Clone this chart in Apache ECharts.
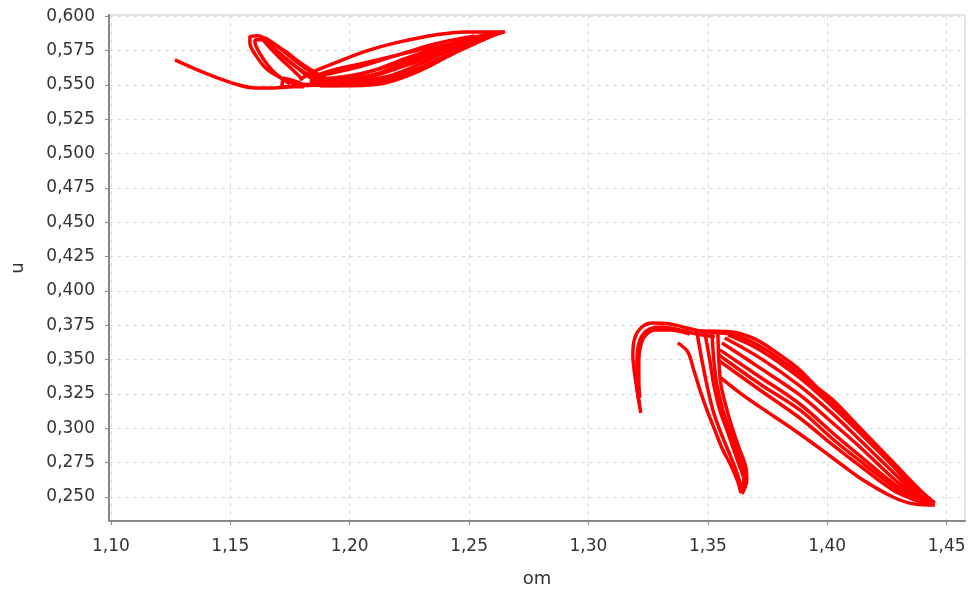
<!DOCTYPE html>
<html>
<head>
<meta charset="utf-8">
<script src="https://cdn.jsdelivr.net/npm/echarts@6/dist/echarts.min.js"></script>
<style>
html,body{margin:0;padding:0;background:#fff;}
#chart{width:969px;height:590px;}
</style>
</head>
<body>
<div id="chart"></div>
<script>
// Tick values
const xTicks = [1.10, 1.15, 1.20, 1.25, 1.30, 1.35, 1.40, 1.45];
const yTicks = [0.250, 0.275, 0.300, 0.325, 0.350, 0.375, 0.400, 0.425, 0.450, 0.475, 0.500, 0.525, 0.550, 0.575, 0.600];

// Upper cluster (om, u)
const upperTail = [[1.1268,0.5683],[1.1352,0.5618],[1.1436,0.5559],[1.1519,0.5508],[1.1603,0.5479],[1.1687,0.5479],[1.1791,0.5494],[1.1917,0.5501],[1.2043,0.5501]];
const upperLobe1 = [[1.1791,0.5508],[1.1959,0.5494],[1.2126,0.5508],[1.2252,0.5574],[1.2378,0.5683],[1.2503,0.5785],[1.2608,0.5865],[1.2650,0.5887],[1.2587,0.5887],[1.2482,0.5887],[1.2357,0.5865],[1.2210,0.5814],[1.2072,0.5749],[1.1938,0.5661],[1.1846,0.5596],[1.1791,0.5538]];
const upperLobe2 = [[1.1812,0.5501],[1.1980,0.5508],[1.2147,0.5538],[1.2294,0.5625],[1.2420,0.5727],[1.2545,0.5829],[1.2642,0.5887],[1.2545,0.5858],[1.2420,0.5800],[1.2294,0.5756],[1.2168,0.5705],[1.2043,0.5654],[1.1917,0.5603],[1.1833,0.5552]];
const upperLobe3 = [[1.1833,0.5508],[1.2001,0.5523],[1.2168,0.5567],[1.2315,0.5669],[1.2441,0.5771],[1.2566,0.5851],[1.2629,0.5880],[1.2524,0.5844],[1.2399,0.5785],[1.2252,0.5705],[1.2106,0.5610],[1.1959,0.5538],[1.1833,0.5508]];
const upperLobe4 = [[1.1875,0.5494],[1.2043,0.5508],[1.2210,0.5552],[1.2336,0.5640],[1.2461,0.5756],[1.2587,0.5858],[1.2503,0.5800],[1.2378,0.5727],[1.2231,0.5640],[1.2085,0.5559],[1.1938,0.5508],[1.1875,0.5494]];
const upperFill1 = [[1.1854,0.5538],[1.2001,0.5567],[1.2168,0.5640],[1.2336,0.5742],[1.2503,0.5829],[1.2629,0.5880]];
const upperFill2 = [[1.1833,0.5523],[1.1980,0.5538],[1.2126,0.5589],[1.2294,0.5698],[1.2461,0.5800],[1.2608,0.5873]];
const upperFill3 = [[1.1875,0.5567],[1.2022,0.5625],[1.2189,0.5712],[1.2357,0.5800],[1.2524,0.5858]];
const upperHook1 = [[1.1791,0.5494],[1.1729,0.5538],[1.1657,0.5610],[1.1611,0.5705],[1.1582,0.5807],[1.1582,0.5851],[1.1616,0.5858],[1.1649,0.5836],[1.1708,0.5771],[1.1771,0.5683],[1.1833,0.5610],[1.1896,0.5545],[1.1959,0.5494]];
const upperHook2 = [[1.1750,0.5508],[1.1691,0.5581],[1.1641,0.5683],[1.1607,0.5785],[1.1603,0.5829],[1.1632,0.5829],[1.1687,0.5756],[1.1750,0.5669],[1.1812,0.5581],[1.1875,0.5508]];
const upperHook3 = [[1.1632,0.5844],[1.1699,0.5742],[1.1771,0.5640],[1.1833,0.5567],[1.1896,0.5508]];
const upperHook4 = [[1.1645,0.5844],[1.1716,0.5756],[1.1783,0.5661],[1.1854,0.5574],[1.1917,0.5508]];
const upperHook5 = [[1.1657,0.5829],[1.1733,0.5742],[1.1800,0.5654],[1.1867,0.5581],[1.1938,0.5516]];
const upperHook6 = [[1.1637,0.5829],[1.1674,0.5756],[1.1716,0.5683],[1.1762,0.5610],[1.1804,0.5538]];
const upperSmall = [[1.1720,0.5552],[1.1791,0.5516],[1.1808,0.5487],[1.1716,0.5487],[1.1720,0.5552]];

// Lower cluster (om, u)
const lowerHook1 = [[1.3219,0.3112],[1.3207,0.3243],[1.3194,0.3389],[1.3186,0.3534],[1.3194,0.3658],[1.3224,0.3738],[1.3270,0.3767],[1.3341,0.3760],[1.3412,0.3731],[1.3467,0.3709],[1.3550,0.3695],[1.3634,0.3687]];
const lowerHook2 = [[1.3215,0.3170],[1.3203,0.3316],[1.3203,0.3462],[1.3207,0.3585],[1.3224,0.3673],[1.3257,0.3724],[1.3307,0.3738],[1.3383,0.3716],[1.3454,0.3687],[1.3529,0.3666]];
const lowerHook3 = [[1.3215,0.3221],[1.3211,0.3352],[1.3211,0.3498],[1.3219,0.3607],[1.3240,0.3680],[1.3282,0.3716],[1.3341,0.3716],[1.3425,0.3687]];
const diagTop = [[1.3467,0.3709],[1.3605,0.3702],[1.3705,0.3644],[1.3772,0.3571],[1.3831,0.3498],[1.3885,0.3425],[1.3956,0.3301],[1.4023,0.3207],[1.4137,0.3003],[1.4275,0.2755],[1.4388,0.2551],[1.4451,0.2456]];
const diagTop2 = [[1.3592,0.3695],[1.3718,0.3600],[1.3885,0.3396],[1.4023,0.3185],[1.4137,0.2988],[1.4275,0.2740],[1.4388,0.2536]];
const diagFill = [[1.3584,0.3680],[1.3718,0.3571],[1.3885,0.3367],[1.4023,0.3156],[1.4137,0.2966],[1.4275,0.2726],[1.4379,0.2529],[1.4438,0.2456]];
const diagBand1Low = [[1.3571,0.3658],[1.3718,0.3513],[1.3885,0.3309],[1.4023,0.3105],[1.4137,0.2915],[1.4275,0.2682],[1.4367,0.2529],[1.4430,0.2456]];
const diagMid = [[1.3559,0.3622],[1.3718,0.3440],[1.3885,0.3243],[1.4023,0.3039],[1.4137,0.2864],[1.4275,0.2638],[1.4367,0.2515],[1.4421,0.2456]];
const diagBand2Top = [[1.3550,0.3571],[1.3718,0.3374],[1.3885,0.3177],[1.4023,0.2966],[1.4137,0.2799],[1.4275,0.2602],[1.4367,0.2500],[1.4421,0.2449]];
const diagBand2Mid = [[1.3546,0.3534],[1.3718,0.3323],[1.3885,0.3134],[1.4023,0.2922],[1.4137,0.2762],[1.4275,0.2580],[1.4367,0.2485]];
const diagBand2Low = [[1.3542,0.3498],[1.3718,0.3279],[1.3885,0.3075],[1.4023,0.2879],[1.4137,0.2726],[1.4275,0.2551],[1.4367,0.2478],[1.4430,0.2442]];
const diagLowest = [[1.3555,0.3367],[1.3634,0.3258],[1.3718,0.3156],[1.3885,0.2959],[1.4023,0.2784],[1.4137,0.2638],[1.4275,0.2500],[1.4367,0.2449],[1.4451,0.2442]];
const vertThin = [[1.3374,0.3622],[1.3416,0.3556],[1.3441,0.3425],[1.3467,0.3279],[1.3496,0.3134],[1.3529,0.2988],[1.3563,0.2842],[1.3596,0.2733],[1.3626,0.2609],[1.3638,0.2529]];
const vertLeft = [[1.3454,0.3702],[1.3475,0.3498],[1.3496,0.3316],[1.3521,0.3134],[1.3550,0.2988],[1.3584,0.2842],[1.3613,0.2719],[1.3634,0.2609],[1.3643,0.2529]];
const vertMid = [[1.3487,0.3702],[1.3508,0.3498],[1.3525,0.3316],[1.3550,0.3134],[1.3580,0.2988],[1.3609,0.2842],[1.3634,0.2719],[1.3651,0.2624],[1.3643,0.2536]];
const vertRight = [[1.3542,0.3695],[1.3546,0.3498],[1.3555,0.3316],[1.3580,0.3134],[1.3605,0.2988],[1.3634,0.2842],[1.3659,0.2719],[1.3663,0.2624],[1.3643,0.2522]];
const vertInner = [[1.3517,0.3702],[1.3525,0.3498],[1.3538,0.3316],[1.3563,0.3134],[1.3592,0.2988],[1.3621,0.2842],[1.3647,0.2719],[1.3659,0.2638]];

const curves = [upperTail, upperLobe1, upperLobe2, upperLobe3, upperLobe4, upperFill1, upperFill2, upperFill3,
  upperHook1, upperHook2, upperHook3, upperHook4, upperHook5, upperHook6, upperSmall,
  lowerHook1, lowerHook2, lowerHook3, diagTop, diagTop2, diagFill, diagBand1Low, diagMid, diagBand2Top, diagBand2Mid, diagBand2Low, diagLowest,
  vertThin, vertLeft, vertMid, vertRight, vertInner];

const chart = echarts.init(document.getElementById('chart'), null, {renderer: 'canvas'});
const labelFont = {fontFamily: 'DejaVu Sans', fontSize: 17, color: '#333'};
chart.setOption({
  animation: false,
  backgroundColor: '#fff',
  grid: {left: 109, right: 4, top: 15, bottom: 69, show: true, borderColor: '#c8c8c8', borderWidth: 1, containLabel: false, outerBoundsMode: 'none'},
  xAxis: {
    type: 'value', min: 1.0992, max: 1.4577,
    name: 'om', nameLocation: 'middle', nameGap: 49,
    nameTextStyle: {fontFamily: 'DejaVu Sans', fontSize: 18, color: '#333'},
    axisLine: {show: true, onZero: false, lineStyle: {color: '#888', width: 2}},
    axisTick: {show: true, length: 4, lineStyle: {color: '#888'}, customValues: xTicks},
    axisLabel: Object.assign({margin: 17, customValues: xTicks, formatter: v => v.toFixed(2).replace('.', ',')}, labelFont),
    splitLine: {show: true, lineStyle: {color: '#dcdcdc', type: [4, 4], width: 1}}
  },
  yAxis: {
    type: 'value', min: 0.2325, max: 0.601,
    name: 'u', nameLocation: 'middle', nameGap: 82,
    nameTextStyle: {fontFamily: 'DejaVu Sans', fontSize: 18, color: '#333'},
    axisLine: {show: true, onZero: false, lineStyle: {color: '#888', width: 2}},
    axisTick: {show: true, length: 4, lineStyle: {color: '#888'}, customValues: yTicks},
    axisLabel: Object.assign({margin: 14, customValues: yTicks, formatter: v => v.toFixed(3).replace('.', ',')}, labelFont),
    splitLine: {show: true, lineStyle: {color: '#dcdcdc', type: [4, 4], width: 1}}
  },
  series: curves.map(c => ({
    type: 'line', data: c, showSymbol: false, smooth: 0.35, silent: true,
    lineStyle: {color: '#ff0000', width: 3.5}
  }))
});
</script>
</body>
</html>
